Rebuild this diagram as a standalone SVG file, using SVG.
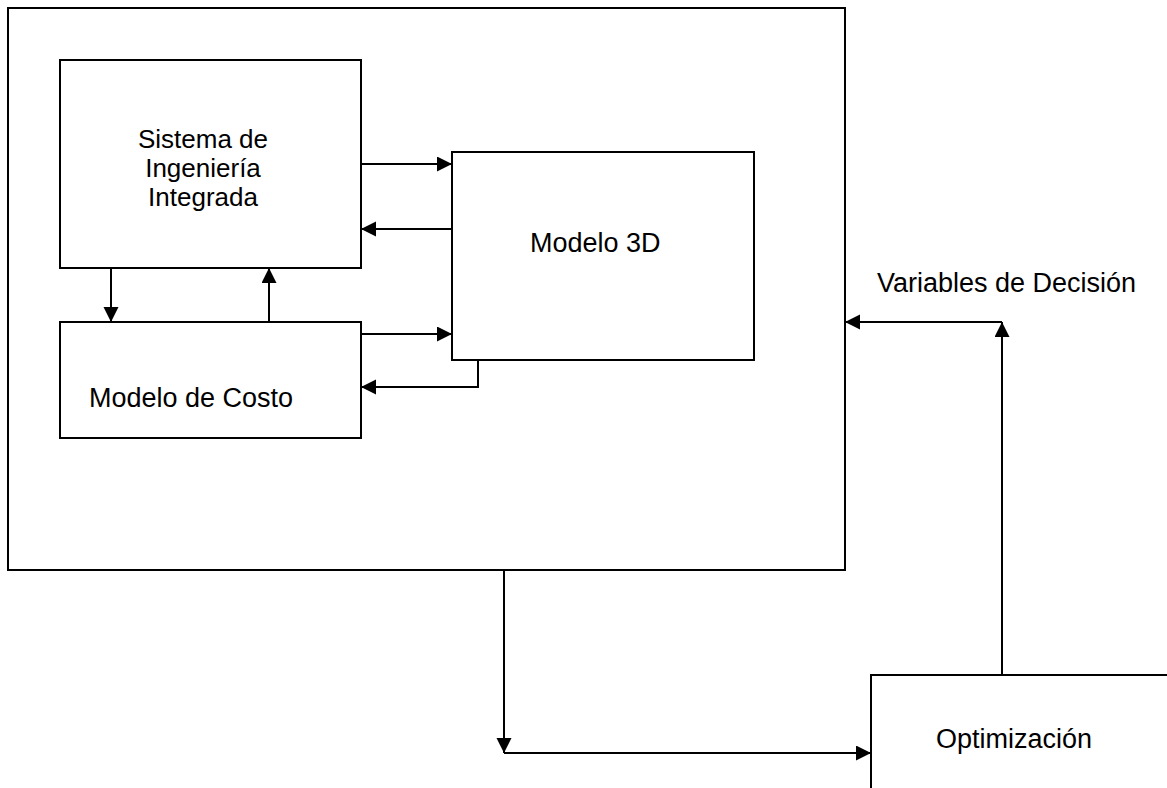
<svg xmlns="http://www.w3.org/2000/svg" width="1167" height="788" viewBox="0 0 1167 788">
  <style>
    .box { fill: #ffffff; stroke: #000000; stroke-width: 2; }
    .wire { fill: none; stroke: #000000; stroke-width: 2; }
    .lbl { font-family: "Liberation Sans", Arial, sans-serif; font-size: 27px; fill: #000000; }
    .stack { font-size: 26px; }
  </style>
  <defs>
    <marker id="arrow" markerUnits="userSpaceOnUse" markerWidth="16" markerHeight="16" refX="15" refY="7.5" orient="auto">
      <path d="M0,0 L15,7.5 L0,15 Z" fill="#000000"/>
    </marker>
  </defs>
  <rect width="1167" height="788" fill="#ffffff"/>

  <!-- enclosing system boundary -->
  <g id="system">
    <rect class="box" x="8" y="8" width="837" height="562"/>
  </g>

  <g id="ingenieria">
    <rect class="box" x="60" y="60" width="301" height="208"/>
    <text class="lbl stack" text-anchor="middle" x="203" y="148">Sistema de</text>
    <text class="lbl stack" text-anchor="middle" x="203" y="177">Ingeniería</text>
    <text class="lbl stack" text-anchor="middle" x="203" y="206">Integrada</text>
  </g>

  <g id="modelo3d">
    <rect class="box" x="452" y="152" width="302" height="208"/>
    <text class="lbl" x="530" y="252">Modelo 3D</text>
  </g>

  <g id="costo">
    <rect class="box" x="60" y="322" width="301" height="116"/>
    <text class="lbl" x="89" y="407">Modelo de Costo</text>
  </g>

  <g id="optimizacion">
    <rect class="box" x="871" y="675" width="320" height="150"/>
    <text class="lbl" text-anchor="middle" x="1014" y="748">Optimización</text>
  </g>

  <g id="decision-label">
    <text class="lbl" x="877" y="292">Variables de Decisión</text>
  </g>

  <g id="connectors">
    <path class="wire" d="M361,164 L452,164" marker-end="url(#arrow)"/>
    <path class="wire" d="M452,229 L361,229" marker-end="url(#arrow)"/>
    <path class="wire" d="M111,268 L111,322" marker-end="url(#arrow)"/>
    <path class="wire" d="M269,322 L269,268" marker-end="url(#arrow)"/>
    <path class="wire" d="M361,334 L452,334" marker-end="url(#arrow)"/>
    <path class="wire" d="M478,360 L478,387 L361,387" marker-end="url(#arrow)"/>
    <path class="wire" d="M504,570 L504,753" marker-end="url(#arrow)"/>
    <path class="wire" d="M504,753 L871,753" marker-end="url(#arrow)"/>
    <path class="wire" d="M1002,675 L1002,322" marker-end="url(#arrow)"/>
    <path class="wire" d="M1002,322 L845,322" marker-end="url(#arrow)"/>
  </g>
</svg>
